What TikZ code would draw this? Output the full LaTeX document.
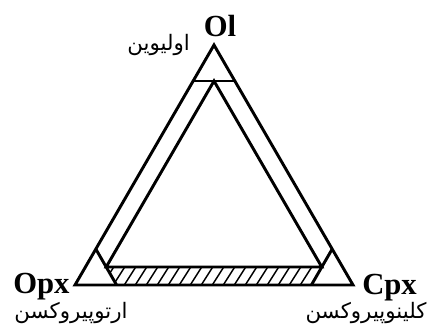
\documentclass[tikz,border=0pt]{standalone}
\usepackage{fontspec}
\setmainfont{Liberation Serif}
\newfontfamily\arabicfont[Script=Arabic]{DejaVu Sans}
\TeXXeTstate=1
\begin{document}
\begin{tikzpicture}[x=0.75pt,y=-0.75pt,
  edge/.style={line width=2.2pt,line join=miter},
  hatchline/.style={line width=1.1pt},
  latin/.style={font=\fontsize{23}{26}\selectfont\bfseries,inner sep=0pt},
  farsi/.style={font=\arabicfont\fontsize{16}{19}\selectfont,inner sep=0pt}]
\useasboundingbox (0,0) rectangle (434,324);
% outer vertices
\coordinate (A) at (214,45);
\coordinate (B) at (75,285);
\coordinate (C) at (353,285);
% inner vertices
\coordinate (Ai) at (214,81);
\coordinate (Bi) at (106.2,267);
\coordinate (Ci) at (321.8,267);
% corner cuts
\coordinate (Al) at (193.15,81);
\coordinate (Ar) at (234.85,81);
\coordinate (Bt) at (95.8,249);
\coordinate (Bb) at (116.6,285);
\coordinate (Ct) at (332.2,249);
\coordinate (Cb) at (311.4,285);
% hatching
\begin{scope}
  \clip (Bi) -- (Bb) -- (Cb) -- (Ci) -- cycle;
  \foreach \x in {90,101,...,330}
    \draw[hatchline] (\x,287) -- (\x+14,265);
\end{scope}
% triangles
\draw[edge] (A) -- (B) -- (C) -- cycle;
\draw[edge] (Ai) -- (Bi) -- (Ci) -- cycle;
\draw[edge] (Al) -- (Ar);
\draw[edge] (Bt) -- (Bb);
\draw[edge] (Ct) -- (Cb);
% labels
\node[latin,anchor=base] (ol) at (220,37) {Ol};
\node[latin,anchor=base west] (opx) at (13,293) {Opx};
\node[latin,anchor=base west] (cpx) at (362,294) {Cpx};
\node[farsi,anchor=east] (olfa) at (190,45) {\beginR اولیوین\endR};
\node[farsi,anchor=south] (opxfa) at (71,323.5) {\beginR ارتوپیروکسن\endR};
\node[farsi,anchor=south] (cpxfa) at (366,323.5) {\beginR کلینوپیروکسن\endR};
\end{tikzpicture}
\end{document}
